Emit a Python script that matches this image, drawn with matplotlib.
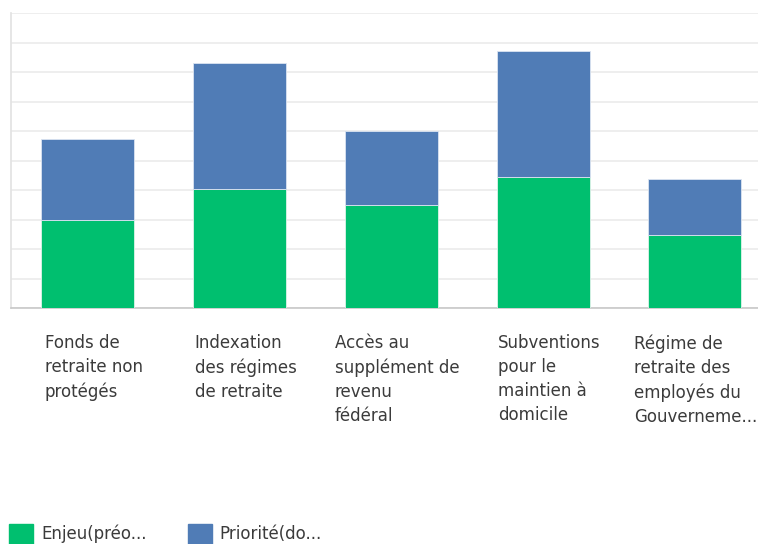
import matplotlib.pyplot as plt
from matplotlib.patches import Patch
import matplotlib.transforms as mtransforms

categories = [
    "Fonds de\nretraite non\nprotégés",
    "Indexation\ndes régimes\nde retraite",
    "Accès au\nsupplément de\nrevenu\nfédéral",
    "Subventions\npour le\nmaintien à\ndomicile",
    "Régime de\nretraite des\nemployés du\nGouverneme...",
]
enjeu = [3.0, 4.04, 3.5, 4.44, 2.48]
priorite = [2.73, 4.28, 2.51, 4.29, 1.89]
legend_labels = ["Enjeu(préo...", "Priorité(do..."]

green = "#00bf6f"
blue = "#507cb6"
text_color = "#3b3b3b"

plt.rcParams['font.family'] = ['DejaVu Sans']

fig = plt.figure(figsize=(7.58, 5.44), dpi=100)
W, H = 758, 544
ax = fig.add_axes([11 / W, (H - 308.3) / H, (771.6 - 11) / W, 295 / H])

x = list(range(len(categories)))
ax.bar(x, enjeu, width=0.613, color=green, edgecolor="#dff3ea", linewidth=0.6, zorder=3)
ax.bar(x, priorite, bottom=enjeu, width=0.613, color=blue, edgecolor="#dbe4f1",
       linewidth=0.6, zorder=3)

ax.set_xlim(-0.506, len(categories) - 1 + 0.506)
ax.set_ylim(0, 10)
ax.set_yticks(range(0, 11))
ax.yaxis.grid(True, color="#ebebeb", linewidth=1.2, zorder=0)
ax.set_xticks([])
ax.tick_params(left=False, labelleft=False)
for s in ["top", "right"]:
    ax.spines[s].set_visible(False)
ax.spines["left"].set_color("#e2e2e2")
ax.spines["left"].set_linewidth(1.2)
ax.spines["bottom"].set_color("#c8c8c8")
ax.spines["bottom"].set_linewidth(1.2)

# category labels below the bars, left-aligned text in centred blocks
renderer = fig.canvas.get_renderer()
for xi, lab in zip(x, categories):
    offset = mtransforms.ScaledTranslation(6 / 100, -26 / 100, fig.dpi_scale_trans)
    t = ax.text(xi, 0, lab, ha="center", va="top", multialignment="left",
                fontsize=12, color=text_color, linespacing=1.43,
                transform=ax.get_xaxis_transform() + offset)
    # keep the last label inside the figure
    overflow = t.get_window_extent(renderer).x1 - (W - 1)
    if overflow > 0:
        shift = mtransforms.ScaledTranslation((6 - overflow) / 100, -26 / 100,
                                              fig.dpi_scale_trans)
        t.set_transform(ax.get_xaxis_transform() + shift)

handles = [Patch(facecolor=green, edgecolor=green), Patch(facecolor=blue, edgecolor=blue)]
fig.legend(handles, legend_labels, loc="upper left", bbox_to_anchor=(9 / W, 1 - 524 / H),
           ncol=2, frameon=False, fontsize=12, labelcolor=text_color,
           handlelength=1.44, handleheight=1.44, handletextpad=0.48, columnspacing=2.46,
           borderaxespad=0.0, borderpad=0.0)

fig.savefig("out.png", dpi=100)
